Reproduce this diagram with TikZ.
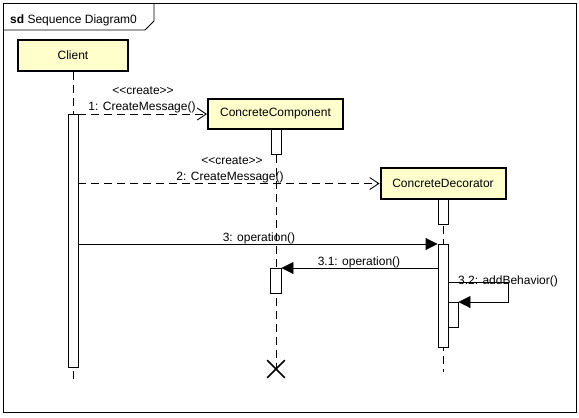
\documentclass[tikz,border=0pt]{standalone}
\usepackage{fontspec}
\setmainfont{Liberation Sans}
\usetikzlibrary{arrows.meta,shapes.misc}
\definecolor{headfill}{HTML}{FFFFCC}
\newcommand{\stereo}[1]{<\kern0pt<#1>\kern0pt>}
\tikzset{
  thin line/.style={line width=0.9pt},
  head/.style={draw, line width=2pt, fill=headfill, inner sep=0pt,
    font=\fontsize{12}{14}\selectfont},
  lifeline/.style={thin line, dash pattern=on 8pt off 5pt},
  act/.style={draw, thin line, fill=white, minimum width=10pt, inner sep=0pt, anchor=north},
  createmsg/.style={thin line, dash pattern=on 8pt off 5pt,
    -{Straight Barb[length=9pt,width=12pt,line width=0.9pt]}},
  callmsg/.style={thin line, -{Triangle[length=12pt,width=12pt]}},
  lbl/.style={inner sep=0pt, anchor=base, font=\fontsize{12}{14}\selectfont},
}
\begin{document}
\begin{tikzpicture}[x=1pt,y=-1pt]
\useasboundingbox (0,0) rectangle (579,418);

% outer sd frame and its title tab
\node[draw, thin line, minimum width=573pt, minimum height=409pt, anchor=north west, inner sep=0pt] (frame) at (3,3) {};
\draw[thin line] (frame.north west) ++(0,27) -| ++(142,0) -- ++(9,-9) -- ++(0,-18);
\node[lbl, anchor=base west] (title) at (10,23) {\textbf{sd} Sequence Diagram0};

% lifeline heads
\node[head, minimum width=110pt, minimum height=31pt] (client) at (73,55.5) {Client};
\node[head, minimum width=135pt, minimum height=30pt] (comp) at (275.5,114) {ConcreteComponent};
\node[head, minimum width=125pt, minimum height=31pt] (dec) at (443,183.5) {ConcreteDecorator};

% lifeline ends
\coordinate (clientend) at (73,382);
\coordinate (decend) at (443,372);
\node[cross out, draw, line width=1.6pt, minimum size=16pt, inner sep=0pt] (destroy) at (276,369) {};

% dashed lifelines
\draw[lifeline] (client.south) -- (clientend);
\draw[lifeline] (276,129) -- (destroy.center);
\draw[lifeline] (dec.south) -- (decend);

% activation bars
\node[act, minimum height=253pt] (actC) at (73,114) {};
\node[act, minimum height=25pt] (actCC) at (276,129) {};
\node[act, minimum height=25pt] (actD0) at (443,199) {};
\node[act, minimum height=103pt] (actD) at (443,244) {};
\node[act, minimum height=25pt, minimum width=11pt] (actCC2) at (275.5,268) {};
\node[act, minimum height=25pt] (actD2) at (453,302) {};

% messages
\draw[createmsg] (actC.east |- comp.west) -- (comp.west);
\node[lbl] (m1s) at (143,94) {\stereo{create}};
\node[lbl] (m1) at (142,110) {1: CreateMessage()};

\draw[createmsg] (actC.east |- dec.west) -- (dec.west);
\node[lbl] (m2s) at (232,164) {\stereo{create}};
\node[lbl] (m2) at (230,180) {2: CreateMessage()};

\draw[callmsg] (actC.east |- actD.north) -- (actD.north west);
\node[lbl] (m3) at (259,241) {3: operation()};

\draw[callmsg] (actD.west |- actCC2.north) -- (actCC2.north east);
\node[lbl] (m31) at (359,265) {3.1: operation()};

\coordinate (selfout) at (508,282);
\draw[callmsg] (actD.east |- selfout) -- (selfout) |- (actD2.north east);
\node[lbl] (m32) at (508,284) {3.2: addBehavior()};
\end{tikzpicture}
\end{document}
